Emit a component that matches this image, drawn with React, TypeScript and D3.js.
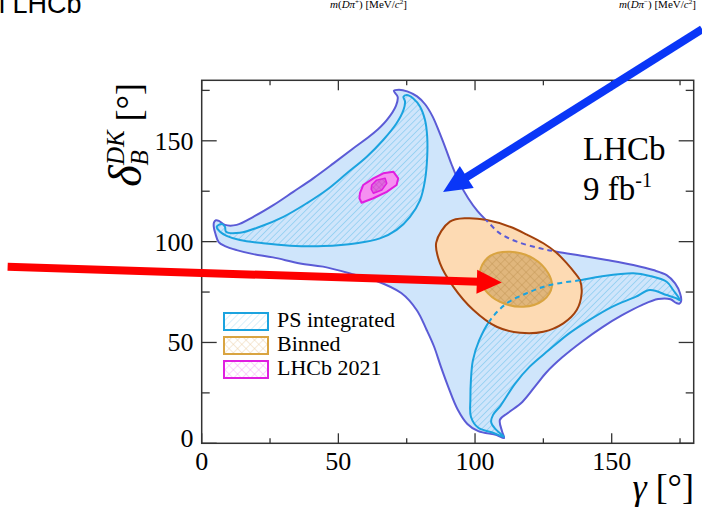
import React from "react";
import * as d3 from "d3";

type P = [number, number];

const W = 702;
const H = 508;
const xDomain: P = [0, 180];
const yDomain: P = [0, 180];
const xMajor = [0, 50, 100, 150];
const xMinor = [25, 75, 125, 175];
const yMajor = [0, 50, 100, 150];
const yMinor = [25, 75, 125, 175];

// PS integrated, outer (2 sigma) contour
const psOuter: P[] = [
  [4.5, 109.5], [5.2, 110.6], [6.3, 110.3], [8.5, 108.3], [12.8, 108.3], [18.9, 112.3], [26.2, 118.1],
  [33.5, 124.7], [40.8, 131.4], [48.2, 138.8], [55.5, 146.3], [62.8, 153.7], [67.7, 160.3], [71.1, 167.5],
  [71.7, 171.8], [70.3, 174.8], [72.2, 175.3], [75.2, 174.5],
  [78.8, 172], [81.8, 168], [84.5, 162], [87, 154], [89.3, 146], [91.5, 138], [94, 130], [97.5, 121.5],
  [101, 115], [104.4, 110.2],
  [109.1, 104.1], [115.3, 100.0], [123.8, 96.7], [129.9, 95.0],
  [139.6, 92.9], [148.2, 90.9], [157.9, 88.4], [165.2, 85.9], [170.1, 83.4], [173.2, 79.3], [175.0, 74.4],
  [175.4, 70.6], [174.8, 69.3], [173.6, 69.6], [171.5, 71.4], [167, 71.5], [161, 68.5], [153.8, 63.5],
  [146.5, 57.5], [139.2, 50.5], [131.8, 42.5], [126, 35], [122.7, 29.5], [117.3, 20.5], [112, 15],
  [109.1, 11.6], [109.9, 5.9], [110.6, 2.6], [107.9, 4.1], [101.2, 6.0], [97.2, 9.6], [93.6, 16.9],
  [90.2, 28], [87.5, 38], [85, 48], [82.3, 56.2], [78.7, 66], [73, 74.5],
  [64, 80.5], [56, 83.6], [44.4, 87.6], [36, 89.2], [26.1, 92.2], [18.9, 93.8], [12.8, 95.8], [8.5, 97.8],
  [6.2, 99.8], [5, 104], [4.4, 107.5],
];

// PS integrated, inner (1 sigma) contours
const psInnerUpper: P[] = [
  [5.5, 107.4], [7.3, 108.7], [8.5, 107.4], [8.9, 104.9], [14.0, 104.4], [21.3, 107.4], [29.9, 112.3],
  [38.4, 119.0], [45.7, 125.6], [53.1, 133.9], [60.4, 142.1], [66.4, 150.4], [71.3, 158.7], [73.8, 165.2],
  [74.4, 169.4], [73.8, 171.8], [75.0, 172.7], [77.4, 171.0], [79.9, 166.9], [81.7, 160.3], [82.5, 152.0],
  [82.5, 142.1], [81.7, 130.5], [79.9, 120.6], [76.2, 112.3], [71.3, 105.8], [65.2, 101.6], [56.7, 99.2],
  [44.5, 97.8], [32.3, 98.0], [22.5, 99.2], [14.0, 100.8], [9.1, 102.9], [6.7, 104.9],
];
const psInnerLower: P[] = [
  [175, 71], [172.5, 76], [170.1, 80.1], [164, 83], [157.9, 84.3], [146, 82.7], [139, 81], [127.4, 78.5],
  [118.9, 74.4], [111.6, 69.4], [105.5, 61], [101.5, 51], [99.2, 41], [98.5, 31.4], [98.3, 22], [98.5, 13.2],
  [101.2, 7.7], [106, 5.5], [110.6, 3.2], [107.5, 7], [105.9, 10.5], [106.6, 14.1], [109.3, 18.6],
  [114.6, 29.5], [120, 38], [126.9, 46.1], [134.3, 54.4], [141.6, 61], [150.1, 67.7], [158.7, 72.6],
  [164, 76], [170.1, 73.5], [173.5, 72],
];

// Binned contours
const binnedOuter: P[] = [
  [85.8, 99.5], [90.8, 109.9], [97, 111.6], [104.3, 110.7], [112.8, 107.4], [119, 103.5], [125, 99.2],
  [129.8, 94.5], [133.6, 89.2], [136.5, 84.5], [138.4, 80.8], [139, 74.4], [137.2, 66.1], [132.3, 59.5],
  [125, 55.3], [116.5, 54.8], [107.9, 57.8], [99.4, 66.1], [92.1, 77.6], [87.2, 89.2],
];
const binnedInner: P[] = [
  [102.1, 86.8], [105.5, 92.9], [112.8, 95], [121.3, 91.7], [126.8, 84.3], [128.1, 77.6], [125, 71],
  [117.7, 67.7], [109.1, 70.2], [103.7, 76], [101.8, 81.8],
];

// LHCb 2021 contours
const lhcbOuter: P[] = [
  [57.9, 124], [59.1, 128.1], [62.8, 131.4], [66.4, 133.9], [70.1, 134.7], [71.9, 131.4], [71.3, 128.1],
  [67.7, 124.7], [62.8, 121.5], [58.5, 119.3], [57.7, 121.5],
];
const lhcbInner: P[] = [
  [62.2, 128.1], [64, 130.5], [67.1, 131.4], [67.7, 128.9], [65.9, 125.6], [62.8, 124], [62, 126],
];

const legendLabels = ["PS integrated", "Binned", "LHCb 2021"];
// slide annotation arrows in data units: [start, tip]
const redArrow: P[] = [[-71, 87.6], [109.8, 79.7]];
const blueArrow: P[] = [[183.1, 205.4], [88.3, 124.6]];

const x = d3.scaleLinear().domain(xDomain).range([201.7, 693.7]);
const y = d3.scaleLinear().domain(yDomain).range([443.3, 80.3]);

const smooth = d3
  .line<P>()
  .x((d) => x(d[0]))
  .y((d) => y(d[1]))
  .curve(d3.curveCatmullRomClosed.alpha(0.5));
const poly = d3
  .line<P>()
  .x((d) => x(d[0]))
  .y((d) => y(d[1]))
  .curve(d3.curveLinearClosed);

const C = {
  outerFill: "#cfe5fb",
  outerStroke: "#5b5bd6",
  innerStroke: "#1ba3df",
  hatch: "#62bde9",
  binOuterFill: "#fddab3",
  binOuterStroke: "#a3410c",
  binInnerFill: "#e0b67c",
  binInnerStroke: "#d9a441",
  binHatch: "#bf9150",
  pinkFill: "#f590f1",
  pinkStroke: "#e01ee0",
  pinkInner: "#e068de",
  axis: "#333",
};

function Arrow({ pts, color, headLen, headW }: { pts: P[]; color: string; headLen: number; headW: number }) {
  const x0 = x(pts[0][0]);
  const y0 = y(pts[0][1]);
  const x1 = x(pts[1][0]);
  const y1 = y(pts[1][1]);
  const dx = x1 - x0;
  const dy = y1 - y0;
  const L = Math.hypot(dx, dy);
  const ux = dx / L;
  const uy = dy / L;
  const bx = x1 - ux * headLen;
  const by = y1 - uy * headLen;
  const px = -uy;
  const py = ux;
  const tri = `M${x1},${y1} L${bx + px * headW / 2},${by + py * headW / 2} L${bx - px * headW / 2},${by - py * headW / 2} Z`;
  return (
    <g>
      <line x1={x0} y1={y0} x2={bx + ux * 2} y2={by + uy * 2} stroke={color} strokeWidth={8} />
      <path d={tri} fill={color} />
    </g>
  );
}

export default function App() {
  const serif = "'Liberation Serif', 'Times New Roman', serif";
  const legendRows = [313, 337, 361];
  return (
    <svg
      width={W}
      height={H}
      viewBox={`0 0 ${W} ${H}`}
      style={{ position: "absolute", left: 0, top: 0, background: "#fff" }}
    >
      <defs>
        <pattern id="psHatch" patternUnits="userSpaceOnUse" width={4.5} height={4.5} patternTransform="rotate(45)">
          <line x1={0} y1={0} x2={0} y2={4.5} stroke={C.hatch} strokeWidth={0.9} />
        </pattern>
        <pattern id="binHatch" patternUnits="userSpaceOnUse" width={6} height={6} patternTransform="rotate(45)">
          <rect width={6} height={6} fill={C.binInnerFill} />
          <line x1={0} y1={0} x2={0} y2={6} stroke={C.binHatch} strokeWidth={0.8} />
          <line x1={0} y1={0} x2={6} y2={0} stroke={C.binHatch} strokeWidth={0.8} />
        </pattern>
        <pattern id="pinkHatch" patternUnits="userSpaceOnUse" width={4} height={4} patternTransform="rotate(45)">
          <rect width={4} height={4} fill={C.pinkInner} />
          <line x1={0} y1={0} x2={0} y2={4} stroke="#c03cc0" strokeWidth={0.7} />
          <line x1={0} y1={0} x2={4} y2={0} stroke="#c03cc0" strokeWidth={0.7} />
        </pattern>
        <pattern id="legPS" patternUnits="userSpaceOnUse" width={5} height={5} patternTransform="rotate(45)">
          <rect width={5} height={5} fill="#fff" />
          <line x1={0} y1={0} x2={0} y2={5} stroke="#a8dcf4" strokeWidth={0.9} />
        </pattern>
        <pattern id="legBin" patternUnits="userSpaceOnUse" width={6} height={6} patternTransform="rotate(45)">
          <rect width={6} height={6} fill="#fff" />
          <line x1={0} y1={0} x2={0} y2={6} stroke="#eccfa6" strokeWidth={0.9} />
          <line x1={0} y1={0} x2={6} y2={0} stroke="#eccfa6" strokeWidth={0.9} />
        </pattern>
        <pattern id="legPink" patternUnits="userSpaceOnUse" width={6} height={6} patternTransform="rotate(45)">
          <rect width={6} height={6} fill="#fff" />
          <line x1={0} y1={0} x2={0} y2={6} stroke="#f4a6f4" strokeWidth={0.9} />
          <line x1={0} y1={0} x2={6} y2={0} stroke="#f4a6f4" strokeWidth={0.9} />
        </pattern>
        <clipPath id="ellClip">
          <path d={smooth(binnedOuter) || ""} />
        </clipPath>
      </defs>

      {/* slide content around the chart */}
      <text x={-1} y={13} fontFamily="'Liberation Sans', Arial, sans-serif" fontSize={27} fill="#000">
        l LHCb
      </text>
      <text x={330} y={8} fontFamily={serif} fontSize={11} fill="#000">
        <tspan fontStyle="italic">m</tspan>(<tspan fontStyle="italic">Dπ</tspan>
        <tspan fontSize={7} dy={-4}>+</tspan>
        <tspan dy={4}>) [MeV/</tspan>
        <tspan fontStyle="italic">c</tspan>
        <tspan fontSize={7} dy={-4}>2</tspan>
        <tspan dy={4}>]</tspan>
      </text>
      <text x={619} y={8} fontFamily={serif} fontSize={11} fill="#000">
        <tspan fontStyle="italic">m</tspan>(<tspan fontStyle="italic">Dπ</tspan>
        <tspan fontSize={7} dy={-4}>−</tspan>
        <tspan dy={4}>) [MeV/</tspan>
        <tspan fontStyle="italic">c</tspan>
        <tspan fontSize={7} dy={-4}>2</tspan>
        <tspan dy={4}>]</tspan>
      </text>

      {/* PS integrated */}
      <path d={smooth(psOuter) || ""} fill={C.outerFill} stroke={C.outerStroke} strokeWidth={2} strokeLinejoin="round" />
      <path d={smooth(psInnerUpper) || ""} fill="url(#psHatch)" stroke={C.innerStroke} strokeWidth={2} strokeLinejoin="round" />
      <path d={smooth(psInnerLower) || ""} fill="url(#psHatch)" stroke={C.innerStroke} strokeWidth={2} strokeLinejoin="round" />

      {/* LHCb 2021 */}
      <path d={poly(lhcbOuter) || ""} fill={C.pinkFill} stroke={C.pinkStroke} strokeWidth={2} strokeLinejoin="round" />
      <path d={poly(lhcbInner) || ""} fill="url(#pinkHatch)" stroke={C.pinkStroke} strokeWidth={1.5} strokeLinejoin="round" />

      {/* Binned */}
      <path d={smooth(binnedOuter) || ""} fill={C.binOuterFill} stroke={C.binOuterStroke} strokeWidth={2} />
      <path d={smooth(binnedInner) || ""} fill="url(#binHatch)" stroke={C.binInnerStroke} strokeWidth={2} />

      {/* hidden PS contours shown dashed through the binned region */}
      <g clipPath="url(#ellClip)">
        <path d={smooth(psOuter) || ""} fill="none" stroke={C.outerStroke} strokeWidth={2} strokeDasharray="5,4" />
        <path d={smooth(psInnerLower) || ""} fill="none" stroke={C.innerStroke} strokeWidth={2} strokeDasharray="5,4" />
      </g>

      {/* frame and ticks */}
      <rect x={x(0)} y={y(180)} width={x(180) - x(0)} height={y(0) - y(180)} fill="none" stroke={C.axis} strokeWidth={1.5} />
      {xMajor.map((t) => (
        <g key={"xM" + t}>
          <line x1={x(t)} x2={x(t)} y1={y(0)} y2={y(0) - 10} stroke={C.axis} strokeWidth={1.3} />
          <line x1={x(t)} x2={x(t)} y1={y(180)} y2={y(180) + 10} stroke={C.axis} strokeWidth={1.3} />
        </g>
      ))}
      {xMinor.map((t) => (
        <g key={"xm" + t}>
          <line x1={x(t)} x2={x(t)} y1={y(0)} y2={y(0) - 5} stroke={C.axis} strokeWidth={1.3} />
          <line x1={x(t)} x2={x(t)} y1={y(180)} y2={y(180) + 5} stroke={C.axis} strokeWidth={1.3} />
        </g>
      ))}
      {yMajor.map((t) => (
        <g key={"yM" + t}>
          <line x1={x(0)} x2={x(0) + 15} y1={y(t)} y2={y(t)} stroke={C.axis} strokeWidth={1.3} />
          <line x1={x(180)} x2={x(180) - 15} y1={y(t)} y2={y(t)} stroke={C.axis} strokeWidth={1.3} />
        </g>
      ))}
      {yMinor.map((t) => (
        <g key={"ym" + t}>
          <line x1={x(0)} x2={x(0) + 8} y1={y(t)} y2={y(t)} stroke={C.axis} strokeWidth={1.3} />
          <line x1={x(180)} x2={x(180) - 8} y1={y(t)} y2={y(t)} stroke={C.axis} strokeWidth={1.3} />
        </g>
      ))}

      {/* tick labels */}
      {xMajor.map((t) => (
        <text key={"xl" + t} x={x(t)} y={470} textAnchor="middle" fontFamily={serif} fontSize={26} fill="#000">
          {t}
        </text>
      ))}
      {yMajor.map((t) => (
        <text
          key={"yl" + t}
          x={193.5}
          y={t === 0 ? y(t) + 4 : y(t) + 9}
          textAnchor="end"
          fontFamily={serif}
          fontSize={26}
          fill="#000"
        >
          {t}
        </text>
      ))}

      {/* axis titles */}
      <text x={694} y={499} textAnchor="end" fontFamily={serif} fontSize={36} fill="#000">
        <tspan fontStyle="italic">γ</tspan> [°]
      </text>
      <text transform="translate(141,83) rotate(-90)" textAnchor="end" fontFamily={serif} fill="#000">
        <tspan fontStyle="italic" fontSize={46}>δ</tspan>
        <tspan fontStyle="italic" fontSize={25} dy={7}>B</tspan>
        <tspan fontStyle="italic" fontSize={25} dx={-15} dy={-24}>DK</tspan>
        <tspan fontSize={36} dy={17}> [°]</tspan>
      </text>

      {/* LHCb label */}
      <text x={583} y={160} fontFamily={serif} fontSize={33} fill="#000">LHCb</text>
      <text x={583} y={200} fontFamily={serif} fontSize={33} fill="#000">
        9 fb<tspan fontSize={20} dy={-13}>-1</tspan>
      </text>

      {/* legend */}
      {legendLabels.map((lab, i) => {
        const fills = ["url(#legPS)", "url(#legBin)", "url(#legPink)"];
        const strokes = [C.innerStroke, C.binInnerStroke, C.pinkStroke];
        return (
          <g key={lab}>
            <rect x={224} y={legendRows[i]} width={44} height={17} fill={fills[i]} stroke={strokes[i]} strokeWidth={2} />
            <text x={277} y={legendRows[i] + 14} fontFamily={serif} fontSize={22} fill="#000">
              {lab}
            </text>
          </g>
        );
      })}

      {/* slide arrows */}
      <Arrow pts={blueArrow} color="#0a36f7" headLen={28} headW={26} />
      <Arrow pts={redArrow} color="#fe0000" headLen={25} headW={24} />
    </svg>
  );
}
